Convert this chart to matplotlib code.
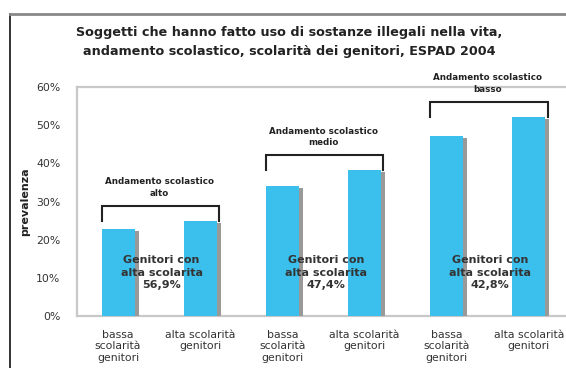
import matplotlib
matplotlib.use("Agg")
import matplotlib.pyplot as plt
from matplotlib.lines import Line2D
import matplotlib.patheffects as pe

# data
categories = ["bassa\nscolarità\ngenitori", "alta scolarità\ngenitori",
              "bassa\nscolarità\ngenitori", "alta scolarità\ngenitori",
              "bassa\nscolarità\ngenitori", "alta scolarità\ngenitori"]
prevalenza = [22.8, 24.9, 34.0, 38.2, 47.1, 52.1]
groups = ["Andamento scolastico\nalto", "Andamento scolastico\nmedio",
          "Andamento scolastico\nbasso"]
alta_scol = ["56,9%", "47,4%", "42,8%"]
yticks = [0, 10, 20, 30, 40, 50, 60]

blue = "#3bbfec"
shadow = "#999999"
dark = "#222222"

fig = plt.figure(figsize=(5.66, 3.68), dpi=100)
ax = fig.add_axes([77 / 566, 52 / 368, 493 / 566, 229 / 368])

x = list(range(len(prevalenza)))
ax.bar(x, prevalenza, width=0.4, color=blue, zorder=3,
       path_effects=[pe.SimplePatchShadow(offset=(2.9, -1.5), shadow_rgbFace=shadow, alpha=1),
                     pe.Normal()])

ax.set_xlim(-0.5, len(x) - 0.5)
ax.set_ylim(0, 60)
ax.set_yticks(yticks)
ax.set_yticklabels([f"{v}%" for v in yticks], fontsize=7.8, color="#333333")
ax.set_xticks(x)
ax.set_xticklabels(categories, fontsize=7.8, color="#333333")
ax.tick_params(length=0, pad=10)
ax.tick_params(axis="y", pad=12)
ax.set_ylabel("prevalenza", fontsize=8, fontweight="bold", color=dark, labelpad=4)

for s in ["left", "top", "bottom"]:
    ax.spines[s].set_color("#c8c8c8")
    ax.spines[s].set_linewidth(1.6)
ax.spines["right"].set_visible(False)

# brackets and group labels
for g in range(3):
    i0, i1 = 2 * g, 2 * g + 1
    top = max(prevalenza[i0], prevalenza[i1])
    yb = top + 4.0
    ax.plot([i0 - 0.2, i0 - 0.2, i1 + 0.23, i1 + 0.23], [top, yb, yb, top],
            color=dark, lw=1.5, zorder=4, clip_on=False, solid_joinstyle="miter")
    ax.text((i0 + i1) / 2, yb + 2.0, groups[g], ha="center", va="bottom",
            fontsize=6.3, fontweight="bold", color=dark, clip_on=False, zorder=5,
            linespacing=1.4)
    ax.text((i0 + i1) / 2 + 0.03, 11.3, "Genitori con\nalta scolarita\n" + alta_scol[g],
            ha="center", va="center", fontsize=8, fontweight="bold", color="#333333",
            zorder=5, linespacing=1.3)

fig.text(289 / 566, 1 - 42 / 368,
         "Soggetti che hanno fatto uso di sostanze illegali nella vita,\n"
         "andamento scolastico, scolarità dei genitori, ESPAD 2004",
         ha="center", va="center", fontsize=9.2, fontweight="bold", color=dark,
         linespacing=1.55)

# outer frame
fig.add_artist(Line2D([10 / 566, 10 / 566], [0, 1 - 14 / 368], color="#111111", lw=1.2))
fig.add_artist(Line2D([10 / 566, 1], [1 - 14 / 368, 1 - 14 / 368], color="#888888", lw=2))

fig.savefig("out.png", dpi=100)
